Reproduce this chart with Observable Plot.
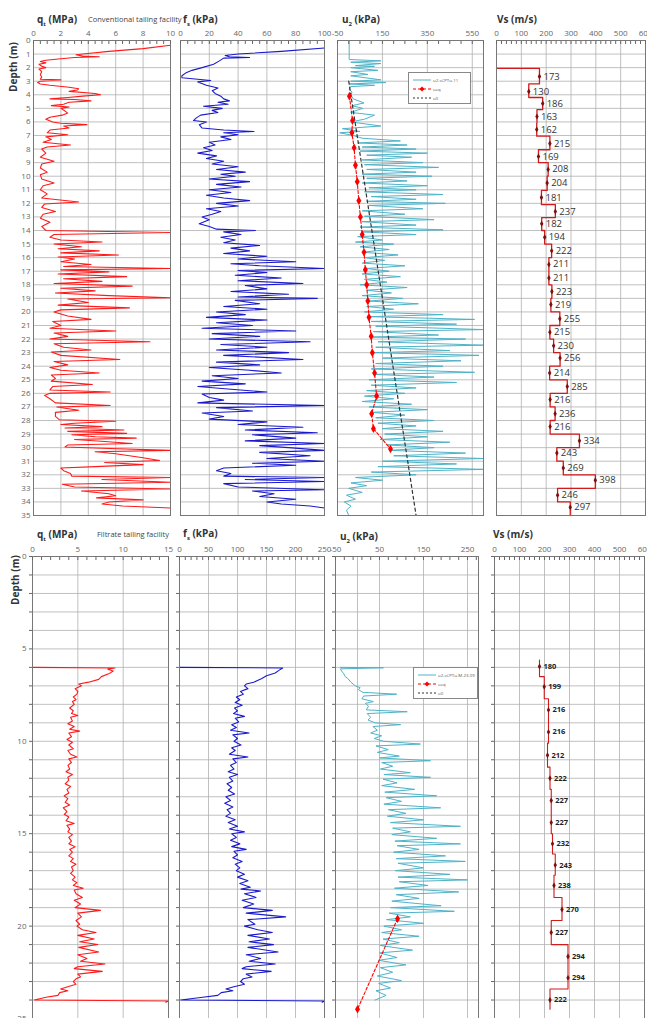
<!DOCTYPE html>
<html><head><meta charset="utf-8">
<script src="https://cdn.jsdelivr.net/npm/d3@7"></script>
<script src="https://cdn.jsdelivr.net/npm/@observablehq/plot@0.6"></script>
<style>
body{margin:0;background:#fff;font-family:"Open Sans",sans-serif}
#root{position:relative;width:647px;height:1018px;overflow:hidden;background:#fff}
.tt{position:absolute;font-size:10px;font-weight:bold;color:#333;white-space:nowrap;line-height:1}
.st{position:absolute;font-size:7.5px;color:#444;white-space:nowrap;line-height:1}
.dep{position:absolute;font-size:10px;font-weight:bold;color:#333;white-space:nowrap;transform:translate(-50%,-50%) rotate(-90deg);line-height:1}
</style></head><body><div id="root"></div>
<script>
// ---------------- DATA ----------------
// Top row: conventional tailing facility (depth m, value)
const qtTop = [[0.35,10],[0.6,8],[0.8,5.5],[1.0,3.6],[1.05,3.1],[1.15,3.6],[1.2,4.8],[1.25,3.0],[1.35,2.0],[1.45,0.9],[1.55,0.5],[1.65,0.9],[1.75,0.4],[1.9,0.6],[2.0,0.9],[2.1,0.4],[2.3,0.6],[2.5,0.5],[2.7,0.6],[2.85,0.5],[2.9,2.0],[3.0,0.5],[3.1,0.3],[3.2,0.5],[3.3,1.2],[3.45,2.6],[3.55,3.3],[3.65,3.2],[3.75,2.6],[3.9,4.5],[4.0,4.9],[4.1,3.6],[4.2,2.5],[4.3,1.2],[4.35,3.0],[4.45,4.2],[4.55,2.6],[4.7,2.2],[4.8,1.3],[4.9,2.6],[5.0,2.0],[5.2,2.3],[5.35,2.5],[5.5,2.1],[5.65,1.2],[5.8,0.9],[6.0,1.4],[6.1,2.0],[6.2,3.9],[6.3,2.2],[6.45,2.6],[6.6,1.2],[6.8,1.0],[6.95,2.5],[7.1,0.9],[7.3,1.3],[7.5,0.7],[7.7,2.7],[7.85,1.0],[8.0,0.6],[8.3,0.9],[8.6,0.5],[8.9,1.5],[9.1,0.6],[9.4,0.5],[9.7,1.0],[9.9,0.5],[10.2,0.6],[10.5,1.5],[10.7,0.7],[11.0,0.5],[11.3,1.0],[11.6,0.6],[11.9,3.3],[12.05,0.8],[12.3,0.6],[12.6,1.6],[12.8,0.7],[13.1,0.5],[13.4,1.2],[13.7,0.6],[14.0,0.9],[14.15,10],[14.3,1.5],[14.5,1.2],[14.7,2.0],[14.85,5.0],[15.0,1.5],[15.2,3.5],[15.35,1.8],[15.5,4.8],[15.65,2.0],[15.8,6.2],[15.95,1.8],[16.1,3.0],[16.3,2.0],[16.5,4.2],[16.65,2.2],[16.8,10],[16.9,2.0],[17.05,5.5],[17.2,1.8],[17.4,6.8],[17.55,2.2],[17.75,5.0],[17.9,1.5],[18.1,7.2],[18.25,2.0],[18.45,4.5],[18.6,1.6],[18.8,5.5],[18.95,10],[19.05,2.5],[19.3,4.0],[19.5,1.8],[19.7,7.0],[19.85,2.0],[20.0,1.5],[20.3,2.5],[20.55,4.2],[20.7,1.4],[21.0,2.0],[21.2,1.2],[21.4,6.0],[21.55,1.5],[21.8,2.5],[22.0,1.2],[22.2,8.5],[22.35,1.5],[22.6,2.2],[22.8,4.2],[22.95,1.3],[23.2,2.0],[23.5,6.3],[23.65,1.5],[23.9,2.5],[24.1,1.2],[24.3,2.0],[24.5,4.8],[24.65,1.3],[24.9,1.6],[25.1,1.3],[25.35,4.3],[25.5,1.4],[25.75,1.2],[25.9,5.6],[26.0,1.2],[26.15,0.8],[26.4,1.2],[26.7,1.6],[26.9,5.6],[27.0,1.7],[27.25,3.3],[27.4,1.6],[27.7,1.6],[27.95,1.9],[28.05,6.0],[28.2,3.0],[28.3,2.0],[28.45,5.0],[28.55,2.3],[28.7,6.6],[28.8,2.5],[28.95,6.8],[29.05,2.8],[29.2,4.5],[29.3,7.5],[29.4,3.0],[29.55,5.2],[29.7,7.2],[29.8,2.5],[29.95,2.3],[30.05,5.0],[30.2,10],[30.3,4.5],[30.45,6.0],[30.6,7.0],[30.75,8.0],[30.95,9.2],[31.1,5.2],[31.25,8.0],[31.4,4.5],[31.5,2.0],[31.7,2.2],[31.9,2.7],[32.1,2.8],[32.2,10],[32.35,5.0],[32.55,10],[32.7,2.1],[32.9,3.0],[33.05,10],[33.2,3.5],[33.4,5.5],[33.55,6.0],[33.7,4.6],[33.85,8.0],[34.0,5.5],[34.15,5.0],[34.3,6.5],[34.45,10]];
const fsTop = [[0.55,100],[0.8,70],[1.0,40],[1.1,31],[1.2,34],[1.25,48],[1.3,30],[1.5,27],[1.75,23],[2.0,15],[2.2,8],[2.4,3.5],[2.6,1],[2.75,1],[2.95,21],[3.05,12],[3.3,18],[3.5,26],[3.7,22],[3.9,24],[4.1,28],[4.3,30],[4.45,34],[4.55,26],[4.7,33],[4.85,16],[5.0,29],[5.15,22],[5.3,26],[5.5,14],[5.7,11],[5.9,9],[6.0,18],[6.2,13],[6.45,15],[6.6,30],[6.7,51],[6.8,30],[6.95,40],[7.1,28],[7.3,35],[7.5,20],[7.7,24],[7.9,16],[8.1,22],[8.3,12],[8.5,25],[8.7,18],[8.9,30],[9.1,22],[9.3,40],[9.5,25],[9.7,45],[9.85,28],[10.0,38],[10.2,20],[10.4,48],[10.6,25],[10.8,42],[11.0,20],[11.2,35],[11.4,18],[11.6,30],[11.8,48],[12.0,25],[12.2,40],[12.4,18],[12.6,28],[12.8,22],[13.0,15],[13.2,20],[13.5,13],[13.7,20],[13.9,25],[14.0,52],[14.1,30],[14.3,42],[14.5,28],[14.7,38],[14.9,30],[15.1,55],[15.3,35],[15.5,48],[15.7,30],[15.9,60],[16.1,40],[16.3,80],[16.45,35],[16.6,55],[16.8,100],[16.95,40],[17.1,60],[17.3,38],[17.5,70],[17.7,40],[17.9,85],[18.05,45],[18.3,60],[18.5,35],[18.7,75],[18.9,40],[19.0,95],[19.15,38],[19.4,55],[19.6,30],[19.8,60],[20.0,25],[20.2,45],[20.4,18],[20.6,60],[20.8,25],[21.0,50],[21.2,15],[21.4,80],[21.6,22],[21.8,55],[22.0,20],[22.2,90],[22.4,28],[22.6,60],[22.8,25],[23.0,75],[23.2,30],[23.5,85],[23.7,25],[23.9,55],[24.1,20],[24.3,48],[24.5,70],[24.7,22],[24.9,40],[25.1,15],[25.3,45],[25.5,12],[25.7,35],[25.9,60],[26.05,15],[26.3,20],[26.5,30],[26.7,12],[26.9,100],[27.05,25],[27.3,50],[27.45,15],[27.7,30],[27.9,20],[28.1,60],[28.3,40],[28.5,85],[28.7,45],[28.9,95],[29.05,50],[29.3,80],[29.5,45],[29.7,100],[29.85,55],[30.0,75],[30.2,100],[30.35,55],[30.6,90],[30.8,60],[31.0,100],[31.15,50],[31.3,80],[31.5,30],[31.7,25],[31.9,35],[32.1,30],[32.2,100],[32.35,45],[32.5,100],[32.65,30],[32.9,40],[33.1,100],[33.2,50],[33.4,65],[33.6,55],[33.8,80],[34.0,60],[34.15,70],[34.3,90],[34.45,100]];
const u2Top = [[0,2],[1.4,2],[1.5,143],[1.6,9],[1.7,143],[1.85,30],[1.9,115],[2.0,9],[2.2,130],[2.3,9],[2.5,85],[2.6,9],[2.9,143],[3.0,9],[3.1,165],[3.2,2],[3.3,115],[3.4,9],[3.6,2],[3.8,15],[4.0,9],[4.3,20],[4.6,68],[4.8,15],[5.0,62],[5.3,9],[5.5,115],[5.8,70],[6.0,9],[6.3,143],[6.5,-28],[6.7,50],[6.8,-40],[7.0,20],[7.2,60],[7.4,230],[7.55,40],[7.7,260],[7.85,60],[8.0,300],[8.15,50],[8.3,350],[8.45,80],[8.6,280],[8.8,60],[9.0,330],[9.15,70],[9.35,400],[9.5,80],[9.7,300],[9.85,60],[10.0,370],[10.15,80],[10.35,260],[10.5,60],[10.7,350],[10.85,90],[11.0,300],[11.15,70],[11.35,420],[11.5,100],[11.7,300],[11.85,80],[12.0,430],[12.15,90],[12.4,330],[12.55,60],[12.8,250],[12.95,70],[13.2,380],[13.35,60],[13.6,300],[13.75,50],[13.95,420],[14.1,60],[14.3,300],[14.45,40],[14.7,150],[14.85,30],[15.0,200],[15.2,50],[15.4,180],[15.6,60],[15.8,220],[16.0,70],[16.2,160],[16.4,60],[16.6,250],[16.8,80],[17.0,180],[17.2,60],[17.4,230],[17.6,70],[17.8,170],[18.0,50],[18.2,260],[18.4,80],[18.6,190],[18.8,60],[19.0,240],[19.2,90],[19.4,310],[19.6,80],[19.8,200],[20.0,70],[20.2,420],[20.35,90],[20.55,560],[20.7,100],[20.9,480],[21.05,120],[21.3,600],[21.45,110],[21.7,400],[21.85,100],[22.0,520],[22.2,130],[22.45,600],[22.6,120],[22.85,450],[23.0,110],[23.2,580],[23.4,150],[23.6,500],[23.8,120],[24.0,420],[24.2,100],[24.45,560],[24.6,110],[24.8,380],[25.0,90],[25.2,480],[25.4,100],[25.6,300],[25.8,80],[26.0,250],[26.2,70],[26.4,200],[26.6,60],[26.8,280],[27.0,90],[27.2,350],[27.4,100],[27.6,250],[27.8,120],[28.0,380],[28.2,130],[28.4,300],[28.6,150],[28.8,420],[29.0,160],[29.2,350],[29.4,140],[29.6,450],[29.8,170],[30.0,380],[30.2,180],[30.4,520],[30.6,200],[30.8,600],[31.0,150],[31.2,480],[31.4,130],[31.6,600],[31.8,100],[32.0,300],[32.2,30],[32.4,150],[32.6,10],[32.8,80],[33.0,0],[33.3,60],[33.5,-10],[33.8,30],[34.0,-20],[34.3,10],[34.6,-10],[35,0]];
const ueqTop = [[4.1,3],[5.9,17],[6.8,14],[7.9,24],[9.2,30],[10.4,38],[11.8,45],[13.0,52],[14.3,60],[15.6,68],[16.9,74],[18.0,80],[19.2,85],[20.4,90],[21.8,100],[23.0,105],[24.5,115],[26.2,124],[27.5,102],[28.6,110],[30.1,186]];
const u0Top = [[3.0,0],[35,300]];
const vsTopBounds = [2.06,3.2,4.2,5.1,6.1,7.05,8.05,9.0,10.0,11.05,12.1,13.05,14.0,15.0,16.0,17.0,18.0,19.0,20.0,21.0,22.0,23.0,24.0,25.0,26.0,27.0,28.0,29.0,30.0,31.0,32.0,33.0,34.0,35.0];
const vsTopVals = [173,130,186,163,162,215,169,208,204,181,237,182,194,222,211,211,223,219,255,215,230,256,214,285,216,236,216,334,243,269,398,246,297];
const vsTopMid = [2.65,3.76,4.64,5.6,6.56,7.59,8.55,9.5,10.5,11.57,12.6,13.5,14.5,15.5,16.5,17.5,18.5,19.45,20.5,21.5,22.5,23.4,24.5,25.5,26.45,27.5,28.45,29.5,30.4,31.5,32.4,33.5,34.4];

// Bottom row: filtrate tailing facility
const qtBot = [[6.0,0.1],[6.03,9.1],[6.1,8.3],[6.2,8.9],[6.35,8.4],[6.5,7.6],[6.65,7.3],[6.8,6.2],[6.9,5.1],[7.0,5.4],[7.15,4.7],[7.3,5.0],[7.45,4.9],[7.6,4.5],[7.75,4.8],[7.85,4.4],[8.0,4.6],[8.2,4.1],[8.35,4.5],[8.5,4.3],[8.6,5.0],[8.7,4.2],[8.9,4.4],[9.05,3.9],[9.2,4.6],[9.35,4.1],[9.45,5.2],[9.55,4.0],[9.75,4.3],[9.9,3.8],[10.05,4.4],[10.2,4.0],[10.4,4.5],[10.5,3.9],[10.7,4.2],[10.85,4.9],[10.95,4.0],[11.15,4.3],[11.3,3.9],[11.5,4.1],[11.65,3.7],[11.8,4.4],[11.95,3.9],[12.1,4.0],[12.3,3.6],[12.45,4.2],[12.6,3.8],[12.8,4.0],[12.95,3.5],[13.1,3.9],[13.3,3.6],[13.45,4.1],[13.6,3.4],[13.8,3.8],[13.95,3.5],[14.1,4.0],[14.3,3.7],[14.45,4.6],[14.55,3.8],[14.75,4.1],[14.9,3.9],[15.05,4.4],[15.2,4.0],[15.4,4.3],[15.55,4.0],[15.7,4.7],[15.85,4.1],[16.0,4.4],[16.2,4.0],[16.35,4.5],[16.5,4.2],[16.65,4.8],[16.8,4.3],[17.0,4.5],[17.15,4.2],[17.35,4.7],[17.5,4.4],[17.65,4.9],[17.8,4.5],[17.95,5.6],[18.05,4.6],[18.25,4.8],[18.45,5.5],[18.6,4.6],[18.8,5.3],[19.0,4.7],[19.15,7.5],[19.3,5.0],[19.5,5.4],[19.7,4.8],[19.9,5.2],[20.0,4.9],[20.2,5.5],[20.35,7.0],[20.5,5.0],[20.7,6.8],[20.85,5.2],[21.0,7.2],[21.15,5.1],[21.4,7.3],[21.55,5.0],[21.75,6.0],[21.9,5.3],[22.05,8.0],[22.2,5.0],[22.3,4.6],[22.45,7.7],[22.6,5.0],[22.75,5.3],[22.85,4.8],[23.0,4.5],[23.15,4.8],[23.3,3.8],[23.4,3.1],[23.5,3.9],[23.6,3.0],[23.75,2.8],[23.85,1.5],[24.0,0.2],[24.05,15],[24.12,14.7]];
const fsBot = [[6.0,0],[6.03,178],[6.15,172],[6.3,165],[6.45,150],[6.6,142],[6.8,128],[6.9,115],[7.0,112],[7.15,118],[7.3,105],[7.45,110],[7.6,98],[7.75,104],[7.9,96],[8.05,108],[8.2,95],[8.35,100],[8.5,93],[8.65,112],[8.75,96],[8.95,102],[9.1,90],[9.25,98],[9.4,88],[9.55,120],[9.65,92],[9.85,100],[10.0,94],[10.2,106],[10.35,90],[10.5,96],[10.7,86],[10.85,118],[10.95,92],[11.15,98],[11.3,88],[11.5,94],[11.65,84],[11.8,100],[11.95,86],[12.15,92],[12.3,82],[12.5,90],[12.65,84],[12.85,95],[13.0,80],[13.2,88],[13.35,78],[13.55,92],[13.7,82],[13.9,88],[14.05,80],[14.25,96],[14.4,84],[14.6,100],[14.75,86],[14.9,112],[15.0,90],[15.2,98],[15.35,88],[15.55,104],[15.7,90],[15.85,115],[15.95,94],[16.15,100],[16.3,92],[16.5,108],[16.65,96],[16.85,104],[17.0,98],[17.2,112],[17.35,100],[17.55,118],[17.7,104],[17.9,122],[18.0,106],[18.1,140],[18.25,112],[18.45,132],[18.6,108],[18.8,128],[19.0,110],[19.15,160],[19.3,115],[19.5,183],[19.65,118],[19.9,130],[20.0,112],[20.2,135],[20.35,160],[20.5,118],[20.7,155],[20.85,120],[21.0,162],[21.15,118],[21.4,170],[21.55,115],[21.75,140],[21.9,120],[22.05,165],[22.2,115],[22.3,108],[22.45,158],[22.6,115],[22.75,125],[22.85,110],[23.0,105],[23.15,112],[23.3,92],[23.4,80],[23.5,92],[23.6,72],[23.75,66],[23.85,40],[24.0,2],[24.05,250],[24.12,246]];
const u2Bot = [[6.0,-39],[6.02,59],[6.08,-39],[6.2,-36],[6.35,-31],[6.5,-28],[6.6,-22],[6.8,-15],[7.0,-5],[7.1,6],[7.2,2],[7.35,12],[7.45,89],[7.55,14],[7.7,10],[7.85,36],[7.95,18],[8.1,25],[8.3,20],[8.4,113],[8.5,22],[8.7,30],[8.85,24],[9.0,40],[9.1,98],[9.2,35],[9.4,45],[9.55,30],[9.7,55],[9.85,38],[10.0,60],[10.15,143],[10.25,42],[10.45,70],[10.6,45],[10.8,95],[10.9,50],[11.05,166],[11.15,55],[11.35,80],[11.5,52],[11.7,120],[11.8,60],[11.95,166],[12.05,58],[12.25,90],[12.4,55],[12.6,130],[12.75,62],[12.95,180],[13.05,65],[13.25,100],[13.4,60],[13.6,189],[13.7,70],[13.9,110],[14.05,68],[14.25,150],[14.4,75],[14.6,234],[14.7,80],[14.9,120],[15.05,78],[15.25,180],[15.4,85],[15.55,234],[15.65,90],[15.85,140],[16.0,82],[16.2,200],[16.35,88],[16.5,245],[16.6,92],[16.85,150],[17.0,86],[17.2,210],[17.35,92],[17.5,250],[17.6,95],[17.8,160],[17.95,84],[18.15,230],[18.3,88],[18.5,140],[18.65,78],[18.9,190],[19.0,75],[19.2,220],[19.3,72],[19.5,120],[19.65,66],[19.85,150],[20.0,60],[20.2,100],[20.35,55],[20.55,140],[20.7,58],[20.9,95],[21.05,52],[21.3,125],[21.45,50],[21.7,90],[21.85,48],[22.1,110],[22.25,52],[22.5,80],[22.7,45],[22.95,100],[23.1,48],[23.35,75],[23.5,42],[23.75,65],[24.0,40]];
const ueqBot = [[19.6,91],[24.5,0]];
const vsBotBounds = [5.6,6.5,7.7,8.9,10.1,11.4,12.6,13.8,15.0,16.1,17.25,18.45,19.7,21.0,22.2,23.4,24.5];
const vsBotVals = [180,199,216,216,212,222,227,227,232,243,238,270,227,294,294,222];
const vsBotMid = [5.95,7.05,8.3,9.5,10.75,12.0,13.2,14.4,15.55,16.7,17.8,19.1,20.35,21.65,22.8,24.0];

// Axis ticks
const qtTopTicks = [0,2,4,6,8,10], fsTopTicks=[0,20,40,60,80,100], u2TopTicks=[-50,150,350,550], vsTicks=[0,100,200,300,400,500,600];
const qtBotTicks = [0,5,10,15], fsBotTicks=[0,50,100,150,200,250], u2BotTicks=[-50,50,150,250];

// ---------------- DRAW ----------------
const root = document.getElementById("root");
const ML=24, MT=24, MR=8, MB=6;
const FONT = "'Open Sans', sans-serif";
const GRID = "#b0b0b0", FRAME = "#777", TICKC = "#666";

function range(a,b,s){const r=[];for(let v=a;v<=b+1e-9;v+=s)r.push(+v.toFixed(6));return r;}

function panel(c){
  const w=c.x1-c.x0, h=c.y1-c.y0;
  const p = Plot.plot({
    width:w+ML+MR, height:h+MT+MB, marginLeft:ML, marginRight:MR, marginTop:MT, marginBottom:MB,
    style:{background:"transparent", fontFamily:FONT, overflow:"visible"},
    x:{domain:c.xdom, label:null}, y:{domain:c.ydom, reverse:true, label:null},
    marks:[
      Plot.gridX(c.xgrid,{stroke:GRID,strokeOpacity:1,strokeWidth:0.8}),
      Plot.gridY(c.ygrid,{stroke:GRID,strokeOpacity:1,strokeWidth:0.8}),
      ...c.marks,
      Plot.frame({stroke:FRAME,strokeWidth:1}),
      Plot.axisX(c.xticks,{anchor:"top",label:null,tickSize:0,tickPadding:5,fontSize:8,color:TICKC,tickFormat:d=>String(d)}),
      Plot.axisX(c.xminor,{anchor:"top",label:null,tickSize:-3,tickFormat:()=>"",color:TICKC}),
      Plot.axisY(c.yticks,{anchor:"left",label:null,tickSize:c.ytickSize,tickPadding:3,fontSize:8,color:TICKC,tickFormat:c.yfmt})
    ]
  });
  p.style.position="absolute"; p.style.left=(c.x0-ML)+"px"; p.style.top=(c.y0-MT)+"px";
  root.appendChild(p);
}
function label(html, cls, x, y){const d=document.createElement("div");d.className=cls;d.innerHTML=html;d.style.left=x+"px";d.style.top=y+"px";root.appendChild(d);}
function stepPts(bounds, vals, fromZero){const pts=fromZero?[[bounds[0],0]]:[];vals.forEach((v,i)=>{pts.push([bounds[i],v]);pts.push([bounds[i+1],v]);});return pts;}
const lineOf=(data,stroke,w,extra={})=>Plot.line(data,{x:d=>d[1],y:d=>d[0],stroke,strokeWidth:w,...extra});

const topY0=39.5, topY1=514.5, botY0=556, botY1=1018;
const topDepthGrid = range(0,35,1), botDepthGrid = range(0,25,1);
const topYfmt = d=>String(d), botYfmt = d=>d%5===0?String(d):"";
const noFmt = ()=>"";

// Top row
panel({x0:33,x1:170,y0:topY0,y1:topY1,xdom:[0,10],ydom:[0,35],xticks:qtTopTicks,xgrid:qtTopTicks,xminor:range(0,10,0.5),ygrid:topDepthGrid,yticks:topDepthGrid,ytickSize:0,yfmt:topYfmt,
  marks:[lineOf(qtTop,"#ff1a1a",1.1)]});
panel({x0:180,x1:324,y0:topY0,y1:topY1,xdom:[0,100],ydom:[0,35],xticks:fsTopTicks,xgrid:fsTopTicks,xminor:range(0,100,5),ygrid:topDepthGrid,yticks:topDepthGrid,ytickSize:0,yfmt:noFmt,
  marks:[lineOf(fsTop,"#1a1acc",1.1)]});
panel({x0:337,x1:483,y0:topY0,y1:topY1,xdom:[-50,600],ydom:[0,35],xticks:u2TopTicks,xgrid:u2TopTicks,xminor:range(-50,600,50),ygrid:topDepthGrid,yticks:topDepthGrid,ytickSize:0,yfmt:noFmt,
  marks:[lineOf(u2Top,"#4fb3c8",1),
    lineOf(u0Top,"#333",1.2,{strokeDasharray:"3,3"}),
    lineOf(ueqTop,"#ff0000",1.1,{strokeDasharray:"3,2"}),
    Plot.dot(ueqTop,{x:d=>d[1],y:d=>d[0],symbol:"diamond",r:2.6,fill:"#ff0000",stroke:"none"})]});
panel({x0:496,x1:645,y0:topY0,y1:topY1,xdom:[0,600],ydom:[0,35],xticks:vsTicks,xgrid:vsTicks,xminor:range(0,600,20),ygrid:topDepthGrid,yticks:topDepthGrid,ytickSize:0,yfmt:noFmt,
  marks:[lineOf(stepPts(vsTopBounds,vsTopVals,true),"#d11a1a",1.3),
    Plot.dot(vsTopVals.map((v,i)=>({v,d:vsTopMid[i]})),{x:"v",y:"d",symbol:"diamond",r:1.8,fill:"#7a1010"}),
    Plot.text(vsTopVals.map((v,i)=>({v,d:vsTopMid[i]})),{x:"v",y:"d",text:d=>String(d.v),dx:4,textAnchor:"start",fontSize:9.5,fill:"#333"})]});

// Bottom row
panel({x0:32,x1:168,y0:botY0,y1:botY1,xdom:[0,15],ydom:[0,25],xticks:qtBotTicks,xgrid:qtBotTicks,xminor:range(0,15,1),ygrid:botDepthGrid,yticks:botDepthGrid,ytickSize:3,yfmt:botYfmt,
  marks:[lineOf(qtBot,"#ff1a1a",1.1)]});
panel({x0:179,x1:324,y0:botY0,y1:botY1,xdom:[0,250],ydom:[0,25],xticks:fsBotTicks,xgrid:fsBotTicks,xminor:range(0,250,10),ygrid:botDepthGrid,yticks:botDepthGrid,ytickSize:3,yfmt:noFmt,
  marks:[lineOf(fsBot,"#1a1acc",1.1)]});
panel({x0:335,x1:478,y0:botY0,y1:botY1,xdom:[-50,275],ydom:[0,25],xticks:u2BotTicks,xgrid:[0,50,150,250],xminor:range(-50,270,20),ygrid:botDepthGrid,yticks:botDepthGrid,ytickSize:3,yfmt:noFmt,
  marks:[lineOf(u2Bot,"#4fb3c8",1),
    lineOf(ueqBot,"#ff0000",1.1,{strokeDasharray:"3,2"}),
    Plot.dot(ueqBot,{x:d=>d[1],y:d=>d[0],symbol:"diamond",r:2.6,fill:"#ff0000",stroke:"none"})]});
panel({x0:494,x1:644,y0:botY0,y1:botY1,xdom:[0,600],ydom:[0,25],xticks:vsTicks,xgrid:vsTicks,xminor:range(0,600,20),ygrid:botDepthGrid,yticks:botDepthGrid,ytickSize:3,yfmt:noFmt,
  marks:[lineOf(stepPts(vsBotBounds,vsBotVals,false),"#d11a1a",1.1),
    Plot.dot(vsBotVals.map((v,i)=>({v,d:vsBotMid[i]})),{x:"v",y:"d",symbol:"diamond",r:1.8,fill:"#7a1010"}),
    Plot.text(vsBotVals.map((v,i)=>({v,d:vsBotMid[i]})),{x:"v",y:"d",text:d=>String(d.v),dx:4,textAnchor:"start",fontSize:7.5,fontWeight:"bold",fill:"#222"})]});

// Titles
label("q<sub style='font-size:6px'>t</sub> (MPa)","tt",37,14);
label("Conventional tailing facility","st",88,16);
label("f<sub style='font-size:6px'>s</sub> (kPa)","tt",183,14);
label("u<sub style='font-size:6px'>2</sub> (kPa)","tt",342,14);
label("Vs (m/s)","tt",497,14);
label("Depth (m)","dep",13,67);
label("q<sub style='font-size:6px'>t</sub> (MPa)","tt",37,529);
label("Filtrate tailing facility","st",97,531);
label("f<sub style='font-size:6px'>s</sub> (kPa)","tt",183,528);
label("u<sub style='font-size:6px'>2</sub> (kPa)","tt",340,531);
label("Vs (m/s)","tt",493,529);
label("Depth (m)","dep",15,580);

// Legends (u2 panels)
function legend(x,y,w,h,name){
  const d=document.createElement("div");
  d.style.cssText=`position:absolute;left:${x}px;top:${y}px;width:${w}px;height:${h}px;border:1px solid #888;background:#fff;`;
  d.innerHTML=`<svg width="${w}" height="${h}" style="font-family:${FONT};font-size:4.3px;fill:#555">
  <line x1="4" x2="22" y1="7" y2="7" stroke="#4fb3c8" stroke-width="1"/><text x="24" y="8.5">${name}</text>
  <line x1="4" x2="22" y1="16" y2="16" stroke="#ff0000" stroke-width="1" stroke-dasharray="3,2"/><path d="M13,13.5L15.5,16L13,18.5L10.5,16Z" fill="#ff0000"/><text x="24" y="17.5">ueq</text>
  <line x1="4" x2="22" y1="25" y2="25" stroke="#333" stroke-width="1.2" stroke-dasharray="2,2"/><text x="24" y="26.5">u0</text></svg>`;
  root.appendChild(d);
}
legend(408,72,61,30,"u2-sCPTu-11");
legend(413,667,63,30,"u2-sCPTu-M-23-09");
</script></body></html>
